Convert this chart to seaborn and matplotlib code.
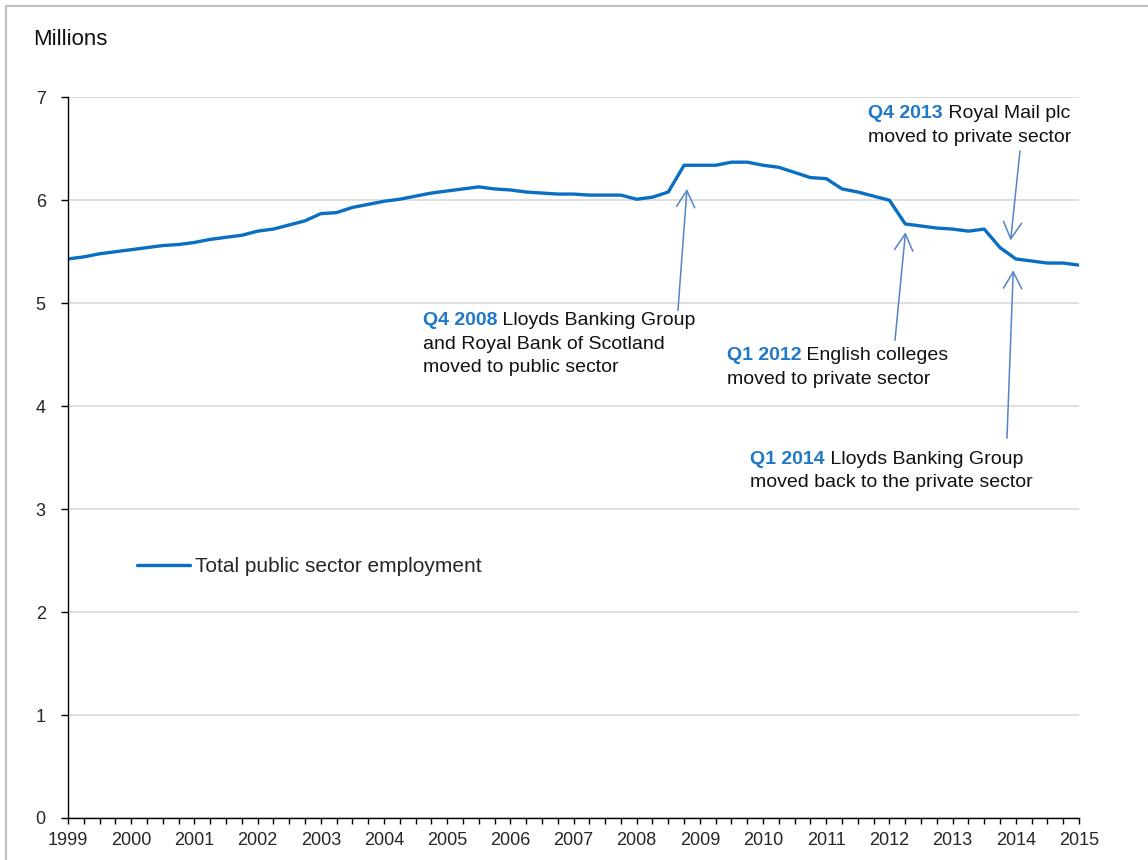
import numpy as np
import pandas as pd
import matplotlib
matplotlib.use("Agg")
import matplotlib.pyplot as plt
from matplotlib.lines import Line2D
from matplotlib.ticker import MultipleLocator
import seaborn as sns

# ---------------- data ----------------
years = list(range(1999, 2016))
quarters = [f"{y} Q{q}" for y in range(1999, 2015) for q in (1, 2, 3, 4)] + ["2015 Q1"]
employment = [
    5.43, 5.45, 5.48, 5.50,   # 1999
    5.52, 5.54, 5.56, 5.57,   # 2000
    5.59, 5.62, 5.64, 5.66,   # 2001
    5.70, 5.72, 5.76, 5.80,   # 2002
    5.87, 5.88, 5.93, 5.96,   # 2003
    5.99, 6.01, 6.04, 6.07,   # 2004
    6.09, 6.11, 6.13, 6.11,   # 2005
    6.10, 6.08, 6.07, 6.06,   # 2006
    6.06, 6.05, 6.05, 6.05,   # 2007
    6.01, 6.03, 6.08, 6.34,   # 2008
    6.34, 6.34, 6.37, 6.37,   # 2009
    6.34, 6.32, 6.27, 6.22,   # 2010
    6.21, 6.11, 6.08, 6.04,   # 2011
    6.00, 5.77, 5.75, 5.73,   # 2012
    5.72, 5.70, 5.72, 5.54,   # 2013
    5.43, 5.41, 5.39, 5.39,   # 2014
    5.37,                     # 2015
]
series_name = "Total public sector employment"
yticks = [0, 1, 2, 3, 4, 5, 6, 7]

annotations = [
    ("Q4 2008", " Lloyds Banking Group", ["and Royal Bank of Scotland", "moved to public sector"]),
    ("Q1 2012", " English colleges", ["moved to private sector"]),
    ("Q4 2013", " Royal Mail plc", ["moved to private sector"]),
    ("Q1 2014", " Lloyds Banking Group", ["moved back to the private sector"]),
]

# ---------------- style ----------------
sns.set_theme(style="white")
plt.rcParams["font.family"] = ["Liberation Sans", "DejaVu Sans"]

LINE = "#0a6fc2"
BOLD_BLUE = "#1f78c8"
ARROW = "#5584c6"
GRID = "#d9d9d9"

def qpos(label):
    y, q = label.split(" Q")
    return int(y) + (int(q) - 1) / 4.0

df = pd.DataFrame({"quarter": quarters, "value": employment})
df["x"] = df["quarter"].map(qpos)

fig = plt.figure(figsize=(11.48, 8.6), dpi=100)
ax = fig.add_axes([68 / 1148, (860 - 818) / 860, 1011 / 1148, (818 - 97.3) / 860])

sns.lineplot(data=df, x="x", y="value", ax=ax, color=LINE, linewidth=2.4,
             label=series_name, solid_joinstyle="round")

ax.set_xlim(years[0], years[-1])
ax.set_ylim(yticks[0], yticks[-1])
ax.set_xticks(years)
ax.set_xticklabels([str(y) for y in years])
ax.xaxis.set_minor_locator(MultipleLocator(0.25))
ax.set_yticks(yticks)
ax.set_yticklabels([str(v) for v in yticks])
ax.set_xlabel("")
ax.set_ylabel("")

ax.yaxis.grid(True, color=GRID, linewidth=1.2)
ax.xaxis.grid(False)
ax.set_axisbelow(True)
for s in ("top", "right"):
    ax.spines[s].set_visible(False)
for s in ("left", "bottom"):
    ax.spines[s].set_color("black")
    ax.spines[s].set_linewidth(1.0)

ax.tick_params(axis="x", which="both", direction="out", length=4, width=1,
               color="black", labelsize=13, pad=6, bottom=True)
ax.tick_params(axis="y", which="major", direction="out", length=5, width=1,
               color="black", labelsize=13, pad=11, left=True)

leg = ax.legend(loc="center left", bbox_to_anchor=(0.068, 0.349), frameon=False,
                fontsize=15, handlelength=2.55, handletextpad=0.25,
                borderpad=0, borderaxespad=0)

fig.text(33 / 1148, 1 - 45 / 860, "Millions", fontsize=16, ha="left",
         va="baseline", color="#111111")

# annotation layout (text anchor = left baseline of first line)
text_pos = [(2004.613, 4.784), (2009.429, 4.446), (2011.660, 6.796), (2009.793, 3.437)]
arrow_pos = [((2008.653, 4.93), (2008.796, 6.11)),
             ((2012.088, 4.64), (2012.254, 5.69)),
             ((2014.066, 6.48), (2013.918, 5.61)),
             ((2013.860, 3.69), (2013.960, 5.32))]
line_step = 16.8  # points between baselines

for (bold, rest, more), (tx, ty), (tail, head) in zip(annotations, text_pos, arrow_pos):
    ax.annotate("", xy=head, xytext=tail,
                arrowprops=dict(arrowstyle="->,head_length=0.6,head_width=0.33",
                                color=ARROW, lw=1.1, shrinkA=0, shrinkB=0,
                                mutation_scale=20))
    tb = ax.text(tx, ty, bold, fontsize=14, fontweight="bold", color=BOLD_BLUE,
                 ha="left", va="baseline")
    ax.annotate(rest, xy=(1, 0), xycoords=tb, fontsize=14, color="#111111",
                ha="left", va="bottom")
    for k, line in enumerate(more, start=1):
        ax.annotate(line, xy=(tx, ty), xytext=(0, -line_step * k),
                    textcoords="offset points", fontsize=14, color="#111111",
                    ha="left", va="baseline")

# outer frame (gray border at top and left)
fig.add_artist(Line2D([6 / 1148, 1.0], [1 - 6 / 860, 1 - 6 / 860],
                      transform=fig.transFigure, color="#bfbfbf", lw=1.5))
fig.add_artist(Line2D([6 / 1148, 6 / 1148], [0.0, 1 - 6 / 860],
                      transform=fig.transFigure, color="#bfbfbf", lw=1.5))

fig.savefig("out.png", dpi=100, facecolor="white")
